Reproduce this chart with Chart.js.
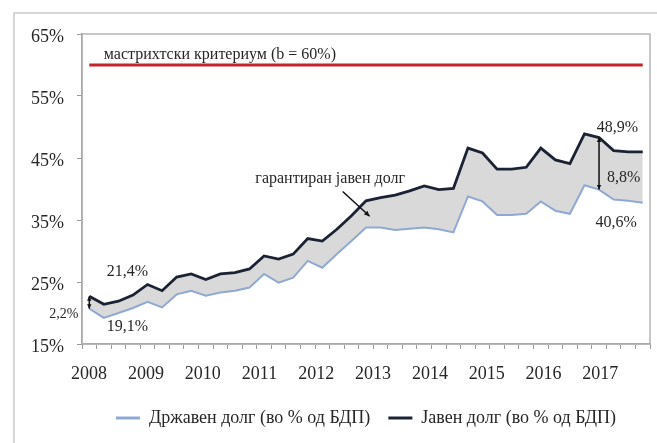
<!DOCTYPE html>
<html><head><meta charset="utf-8">
<script src="https://cdn.jsdelivr.net/npm/chart.js@4/dist/chart.umd.min.js"></script>
<style>
html,body{margin:0;padding:0;background:#fff;}
#wrap{position:relative;width:657px;height:443px;overflow:hidden;}
#frame{position:absolute;left:13px;top:12px;width:700px;height:500px;border-left:2px solid #d6d6d6;border-top:2px solid #d6d6d6;}
canvas{position:absolute;left:0;top:0;}
</style></head><body>
<div id="wrap"><div id="frame"></div><canvas id="c" width="657" height="443"></canvas></div>
<script>
const quarters = ['2008Q1','2008Q2','2008Q3','2008Q4','2009Q1','2009Q2','2009Q3','2009Q4','2010Q1','2010Q2','2010Q3','2010Q4','2011Q1','2011Q2','2011Q3','2011Q4','2012Q1','2012Q2','2012Q3','2012Q4','2013Q1','2013Q2','2013Q3','2013Q4','2014Q1','2014Q2','2014Q3','2014Q4','2015Q1','2015Q2','2015Q3','2015Q4','2016Q1','2016Q2','2016Q3','2016Q4','2017Q1','2017Q2','2017Q3'];
const yearLabels = ['2008','','','','2009','','','','2010','','','','2011','','','','2012','','','','2013','','','','2014','','','','2015','','','','2016','','','','2017','','',''];
const stateDebt = [20.7,19.2,20.0,20.8,21.8,20.9,23.0,23.6,22.8,23.3,23.6,24.1,26.3,24.9,25.7,28.4,27.3,29.5,31.6,33.8,33.8,33.4,33.6,33.8,33.5,33.0,38.8,38.0,35.8,35.8,36.0,38.0,36.5,36.0,40.6,39.9,38.3,38.1,37.8];
const publicDebt = [22.7,21.4,21.9,22.9,24.6,23.6,25.8,26.3,25.4,26.3,26.5,27.1,29.2,28.7,29.5,32.0,31.6,33.5,35.7,38.1,38.6,39.0,39.7,40.5,39.9,40.1,46.6,45.8,43.2,43.2,43.5,46.6,44.7,44.1,48.9,48.3,46.2,46.0,46.0];
const criterionValue = [60];
const yTicks = [15,25,35,45,55,65];
const seriesNames = ['Државен долг (во % од БДП)','Јавен долг (во % од БДП)'];
const criterionLabel = 'мастрихтски критериум (b = 60%)';
const guaranteedLabel = 'гарантиран јавен долг';

const FONT = '"Liberation Serif", "Times New Roman", serif';
const TXT = '#262626';

const notes = [
  {text: criterionLabel, x: 1.0, y: 61.6, size: 16, align: 'left'},
  {text: guaranteedLabel, x: 11.4, y: 41.7, size: 16, align: 'left'},
  {text: '21,4%', x: 1.2, y: 26.7, size: 16, align: 'left'},
  {text: '19,1%', x: 1.2, y: 17.7, size: 16, align: 'left'},
  {text: '2,2%', x: -0.75, y: 19.8, size: 14, align: 'right'},
  {text: '48,9%', x: 34.85, y: 49.9, size: 16, align: 'left'},
  {text: '8,8%', x: 35.55, y: 41.85, size: 16, align: 'left'},
  {text: '40,6%', x: 34.75, y: 34.6, size: 16, align: 'left'}
];
const pointer = {from: [17.4, 39.6], to: [19.25, 35.6]};
const gapMarks = [0, 35];

function arrowHead(ctx, x1, y1, x2, y2, size) {
  const a = Math.atan2(y2 - y1, x2 - x1);
  ctx.beginPath();
  ctx.moveTo(x2, y2);
  ctx.lineTo(x2 - size * Math.cos(a - 0.45), y2 - size * Math.sin(a - 0.45));
  ctx.lineTo(x2 - size * Math.cos(a + 0.45), y2 - size * Math.sin(a + 0.45));
  ctx.closePath();
  ctx.fill();
}

const frameBox = {
  id: 'frameBox',
  beforeDatasetsDraw(chart) {
    const {ctx, chartArea: a} = chart;
    ctx.save();
    ctx.strokeStyle = '#b5b5b5';
    ctx.lineWidth = 1.5;
    ctx.strokeRect(a.left, a.top, a.right - a.left, a.bottom - a.top);
    ctx.restore();
  }
};

const annot = {
  id: 'annot',
  afterDatasetsDraw(chart) {
    const {ctx} = chart;
    const x = chart.scales.x, y = chart.scales.y;
    ctx.save();
    ctx.fillStyle = TXT;
    ctx.textBaseline = 'middle';
    notes.forEach(n => {
      ctx.font = n.size + 'px ' + FONT;
      ctx.textAlign = n.align;
      ctx.fillText(n.text, x.getPixelForValue(n.x), y.getPixelForValue(n.y));
    });
    ctx.strokeStyle = '#111';
    ctx.fillStyle = '#111';
    ctx.lineWidth = 1.5;
    const px1 = x.getPixelForValue(pointer.from[0]), py1 = y.getPixelForValue(pointer.from[1]);
    const px2 = x.getPixelForValue(pointer.to[0]), py2 = y.getPixelForValue(pointer.to[1]);
    ctx.beginPath(); ctx.moveTo(px1, py1); ctx.lineTo(px2, py2); ctx.stroke();
    arrowHead(ctx, px1, py1, px2, py2, 6);
    gapMarks.forEach(i => {
      const gx = x.getPixelForValue(i);
      const t = y.getPixelForValue(publicDebt[i]), b = y.getPixelForValue(stateDebt[i]);
      ctx.beginPath(); ctx.moveTo(gx, t); ctx.lineTo(gx, b); ctx.stroke();
      arrowHead(ctx, gx, t, gx, b, 5);
      arrowHead(ctx, gx, b, gx, t, 5);
    });
    ctx.restore();
  }
};

new Chart(document.getElementById('c'), {
  type: 'line',
  data: {
    labels: quarters,
    datasets: [
      {label: seriesNames[0], data: stateDebt, borderColor: '#8fa9d4', backgroundColor: '#8fa9d4', borderWidth: 2, pointRadius: 0, tension: 0, fill: false},
      {label: seriesNames[1], data: publicDebt, borderColor: '#1a2233', backgroundColor: '#d9d9d9', borderWidth: 2.8, pointRadius: 0, tension: 0, fill: '-1'},
      {label: criterionLabel, data: [{x: quarters[0], y: criterionValue[0]}, {x: quarters[quarters.length - 1], y: criterionValue[0]}], borderColor: '#c3242b', borderWidth: 3, pointRadius: 0, fill: false}
    ]
  },
  options: {
    responsive: false,
    animation: false,
    events: [],
    layout: {padding: {top: 34, right: 6, bottom: 6, left: 0}},
    scales: {
      x: {
        type: 'category', position: 'bottom', offset: true,
        border: {color: '#8a8a8a', width: 1.5},
        grid: {offset: true, drawOnChartArea: false, drawTicks: true, tickLength: 5, color: '#9a9a9a'},
        ticks: {display: false},
        afterFit(s) { s.height = 5; }
      },
      xYear: {
        type: 'category', position: 'bottom', offset: true, labels: yearLabels,
        border: {display: false},
        grid: {display: false, drawTicks: false},
        ticks: {autoSkip: false, maxRotation: 0, padding: 14, color: TXT, font: {family: FONT, size: 18}},
        afterFit(s) { s.height = 42; }
      },
      y: {
        min: yTicks[0], max: yTicks[yTicks.length - 1],
        border: {color: '#8a8a8a', width: 1.5},
        grid: {drawOnChartArea: false, tickLength: 5, color: '#9a9a9a'},
        afterBuildTicks(s) { s.ticks = yTicks.map(v => ({value: v})); },
        ticks: {padding: 13, labelOffset: 3, color: TXT, font: {family: FONT, size: 18}, callback: v => v + '%'},
        afterFit(s) { s.width = 82; }
      }
    },
    plugins: {
      legend: {
        position: 'bottom', fullSize: false,
        labels: {
          boxWidth: 24, boxHeight: 3, padding: 18, color: TXT,
          font: {family: FONT, size: 18},
          filter: (item) => item.datasetIndex < 2,
          sort: (a, b) => a.datasetIndex - b.datasetIndex,
          generateLabels(chart) {
            const items = Chart.defaults.plugins.legend.labels.generateLabels(chart);
            return items.map(it => Object.assign(it, {fillStyle: it.strokeStyle, lineWidth: 0}));
          }
        }
      },
      tooltip: {enabled: false}
    }
  },
  plugins: [frameBox, annot]
});
</script>
</body></html>
